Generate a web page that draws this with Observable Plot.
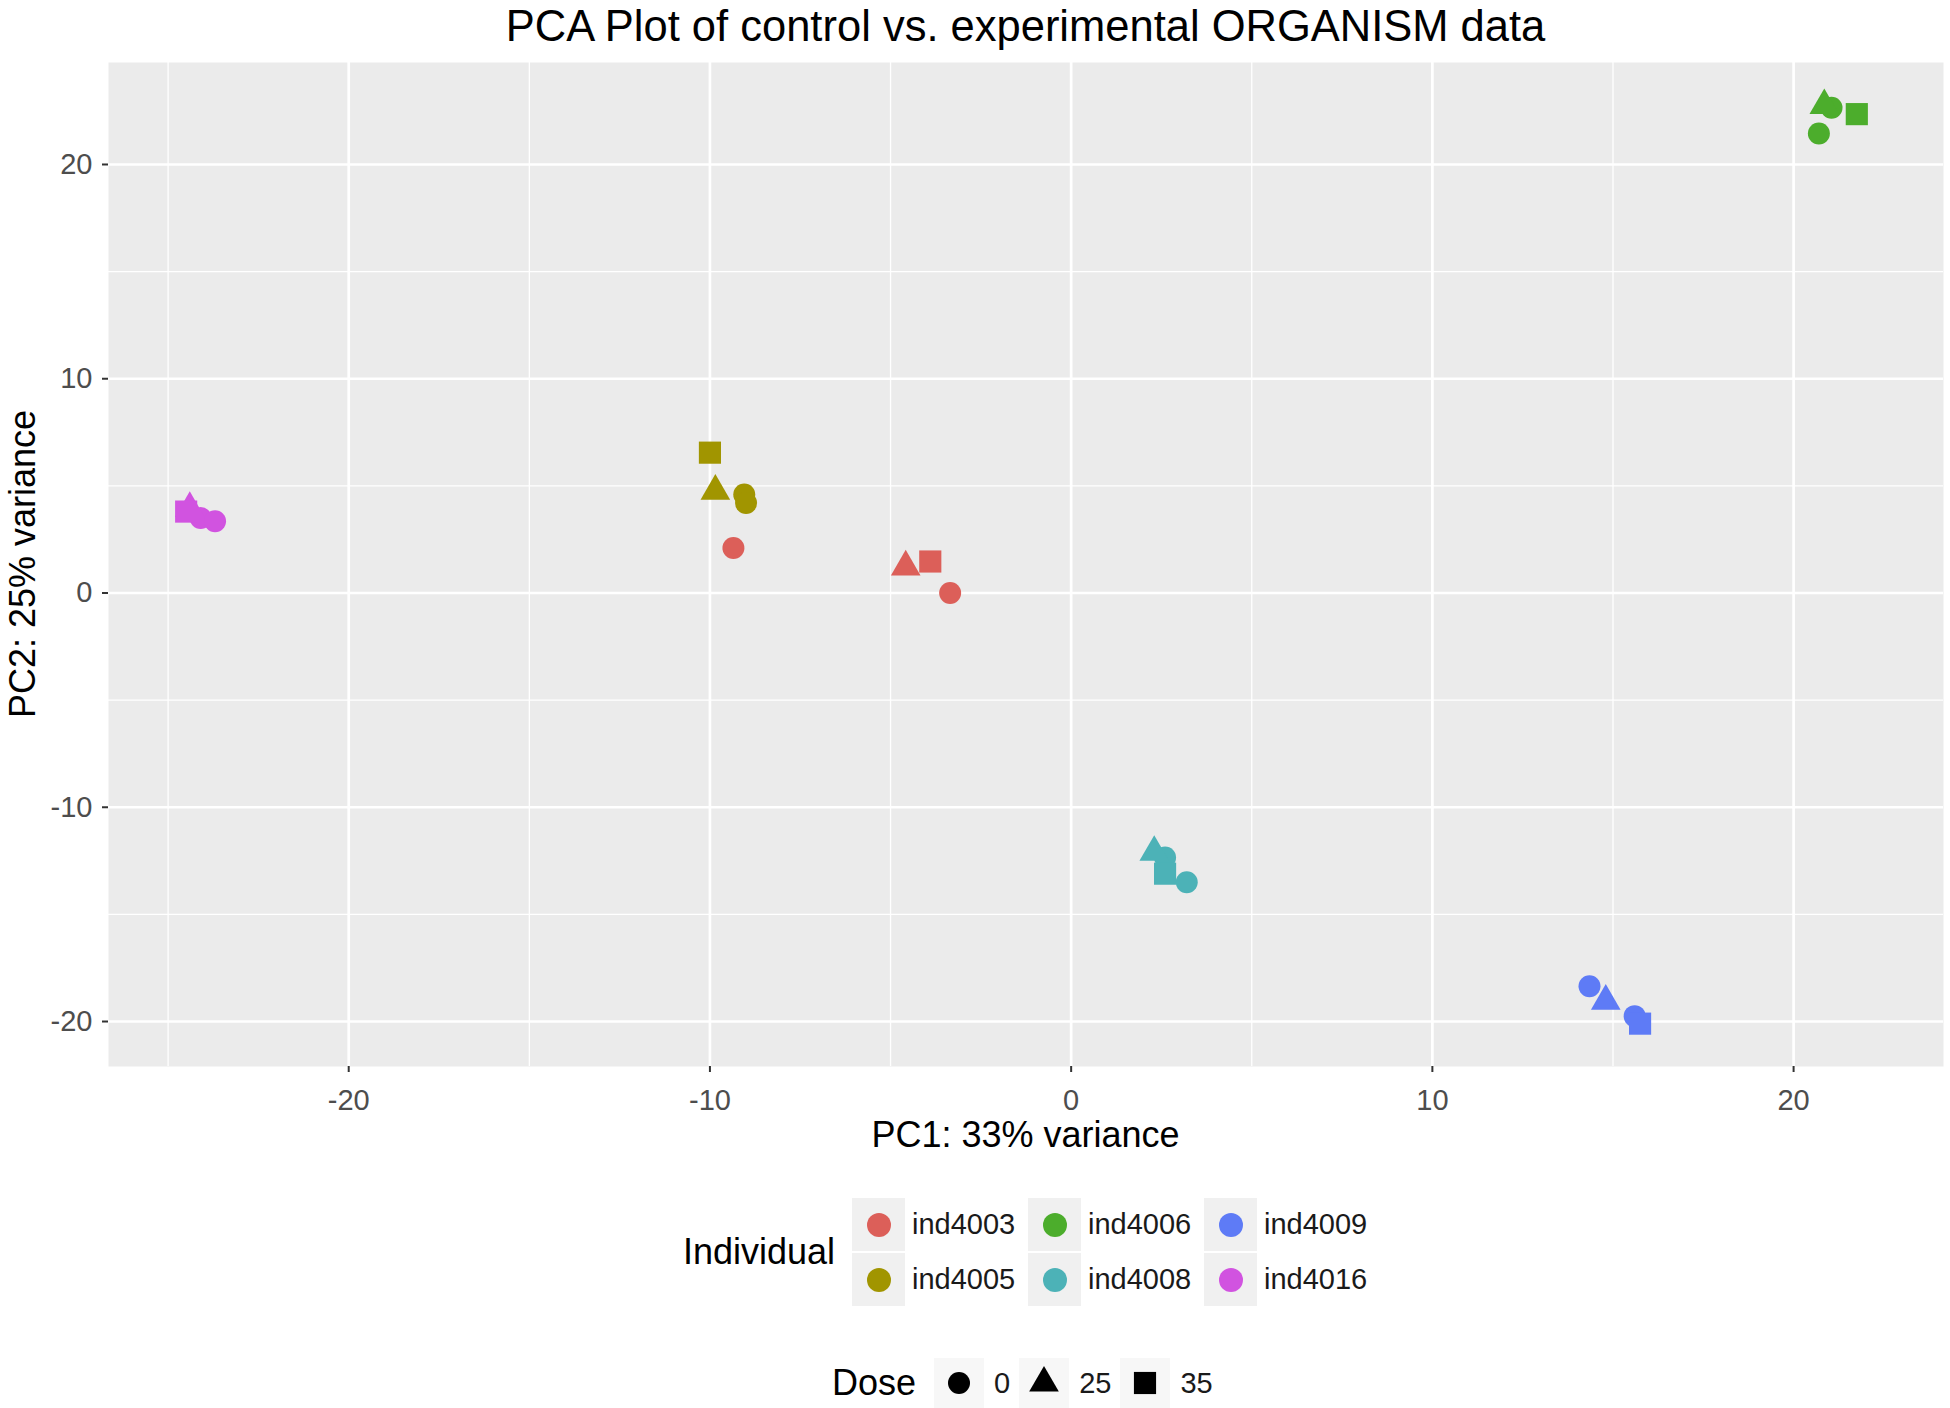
<!DOCTYPE html>
<html><head><meta charset="utf-8">
<script src="https://cdn.jsdelivr.net/npm/d3@7"></script>
<script src="https://cdn.jsdelivr.net/npm/@observablehq/plot@0.6"></script>
<style>
body{margin:0;background:#fff;font-family:"Liberation Sans",Arial,Helvetica,sans-serif;}
#wrap{position:relative;width:1950px;height:1408px;overflow:hidden;}
#title{position:absolute;left:108px;width:1835px;top:4px;text-align:center;font-size:43.5px;line-height:44px;color:#000;white-space:nowrap;}
#chart{position:absolute;left:0;top:62px;}
#xlab{position:absolute;left:108px;width:1835px;top:1115px;text-align:center;font-size:36px;line-height:40px;color:#000;}
#ylab{position:absolute;left:23px;top:564px;transform:translate(-50%,-50%) rotate(-90deg);font-size:36px;line-height:36px;color:#000;white-space:nowrap;}
#leg1{position:absolute;left:683px;top:1197px;display:flex;align-items:center;}
#leg1 .ttl{font-size:36px;width:169px;}
#leg1 .grid{display:grid;grid-template-rows:55px 55px;grid-auto-flow:column;}
.item{display:flex;align-items:center;height:55px;}
.key{width:53px;height:53px;background:#F0F0F0;display:flex;align-items:center;justify-content:center;}
.lab{font-size:29px;color:#1a1a1a;}
#leg1 .lab{margin-left:7px;width:106px;margin-right:10px;}
#leg2{position:absolute;left:832px;top:1358px;display:flex;align-items:center;height:50px;}
#leg2 .ttl{font-size:36px;margin-right:18px;}
#leg2 .key{width:50px;height:50px;background:#F7F7F7;}
#leg2 .lab{margin-left:10px;margin-right:9px;}
</style>
</head><body>
<div id="wrap">
  <div id="title"></div>
  <div id="chart"></div>
  <div id="xlab"></div>
  <div id="ylab"></div>
  <div id="leg1"></div>
  <div id="leg2"></div>
</div>
<script>
const titleText = "PCA Plot of control vs. experimental ORGANISM data";
const xLabel = "PC1: 33% variance";
const yLabel = "PC2: 25% variance";
const colorTitle = "Individual";
const shapeTitle = "Dose";

const individuals = ["ind4003","ind4005","ind4006","ind4008","ind4009","ind4016"];
const colors = ["#DC5F59","#A19500","#4CAD2C","#4CB2B7","#5E7BF6","#D153E0"];
const doses = ["0","25","35"];
const shapes = ["circle","triangle","square"];
const shapeR = [11, 11, 12.5];

const sampleIndividual = [
  "ind4003","ind4003","ind4003","ind4003",
  "ind4005","ind4005","ind4005","ind4005",
  "ind4006","ind4006","ind4006","ind4006",
  "ind4008","ind4008","ind4008","ind4008",
  "ind4009","ind4009","ind4009","ind4009",
  "ind4016","ind4016","ind4016","ind4016"
];
const sampleDose = [
  "0","0","25","35",
  "0","0","25","35",
  "0","0","25","35",
  "0","0","25","35",
  "0","0","25","35",
  "0","0","25","35"
];
const pc1 = [
  -3.35, -9.35, -4.58, -3.9,
  -9.05, -9.0, -9.85, -10.0,
  21.05, 20.7, 20.85, 21.75,
  2.6, 3.2, 2.3, 2.6,
  14.35, 15.6, 14.8, 15.75,
  -24.1, -23.7, -24.4, -24.5
];
const pc2 = [
  0.0, 2.1, 1.22, 1.47,
  4.6, 4.2, 4.75, 6.55,
  22.65, 21.45, 22.75, 22.35,
  -12.35, -13.5, -12.1, -13.1,
  -18.35, -19.75, -19.05, -20.1,
  3.5, 3.35, 3.95, 3.8
];

const xTicks = [-20,-10,0,10,20];
const yTicks = [-20,-10,0,10,20];
const xMinor = [-25,-15,-5,5,15];
const yMinor = [-15,-5,5,15];
const xDomain = [-26.65, 24.15];
const yDomain = [-22.1, 24.76];

const data = pc1.map((v,i) => ({pc1: v, pc2: pc2[i], individual: sampleIndividual[i], dose: sampleDose[i]}));

document.getElementById("title").textContent = titleText;
document.getElementById("xlab").textContent = xLabel;
document.getElementById("ylab").textContent = yLabel;

const symbolMarks = doses.map((d, k) =>
  Plot.dot(data.filter(p => p.dose === d), {
    x: "pc1", y: "pc2", fill: "individual", symbol: () => shapes[k], r: shapeR[k], stroke: "none"
  })
);

const chart = Plot.plot({
  width: 1950,
  height: 1108,
  marginLeft: 108,
  marginRight: 7,
  marginTop: 0,
  marginBottom: 104,
  style: {fontFamily: '"Liberation Sans", Arial, sans-serif', fontSize: "29px", color: "#4D4D4D", background: "transparent", overflow: "visible"},
  x: {domain: xDomain},
  y: {domain: yDomain},
  color: {domain: individuals, range: colors},
  symbol: {domain: shapes, range: shapes},
  marks: [
    Plot.frame({fill: "#EBEBEB", stroke: "none"}),
    Plot.ruleX(xMinor, {stroke: "white", strokeWidth: 1.3}),
    Plot.ruleY(yMinor, {stroke: "white", strokeWidth: 1.3}),
    Plot.ruleX(xTicks, {stroke: "white", strokeWidth: 2.7}),
    Plot.ruleY(yTicks, {stroke: "white", strokeWidth: 2.7}),
    Plot.axisX({ticks: xTicks, tickFormat: d => String(d), tickSize: 6, tickPadding: 17, fontSize: 29, label: null, stroke: "#333", strokeWidth: 2}),
    Plot.axisY({ticks: yTicks, tickFormat: d => String(d), tickSize: 6, tickPadding: 10, fontSize: 29, label: null, stroke: "#333", strokeWidth: 2}),
    ...symbolMarks
  ]
});
document.getElementById("chart").appendChild(chart);

// Colour legend
const leg1 = d3.select("#leg1");
leg1.append("div").attr("class","ttl").text(colorTitle);
const grid = leg1.append("div").attr("class","grid");
individuals.forEach((ind, i) => {
  const it = grid.append("div").attr("class","item");
  const key = it.append("div").attr("class","key");
  key.append("svg").attr("width",30).attr("height",30)
    .append("circle").attr("cx",15).attr("cy",15).attr("r",12).attr("fill",colors[i]);
  it.append("div").attr("class","lab").text(ind);
});

// Shape legend
const leg2 = d3.select("#leg2");
leg2.append("div").attr("class","ttl").text(shapeTitle);
const symTypes = [d3.symbolCircle, d3.symbolTriangle, d3.symbolSquare];
doses.forEach((d, k) => {
  const key = leg2.append("div").attr("class","key");
  const r = shapeR[k];
  key.append("svg").attr("width",40).attr("height",40)
    .append("path")
    .attr("transform","translate(20,20)")
    .attr("d", d3.symbol(symTypes[k], Math.PI*r*r)())
    .attr("fill","#000");
  leg2.append("div").attr("class","lab").text(d);
});
</script>
</body></html>
